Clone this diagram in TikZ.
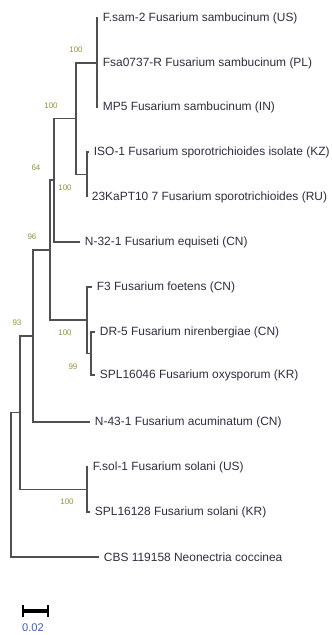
\documentclass[tikz,border=0pt]{standalone}
\usepackage{fontspec}
\setmainfont{Liberation Sans}
\usetikzlibrary{positioning}

\definecolor{treeGray}{RGB}{80,80,80}
\definecolor{leafInk}{RGB}{45,45,65}
\definecolor{bootOlive}{RGB}{150,145,60}
\definecolor{scaleBlue}{RGB}{60,90,200}

\tikzset{
  branch/.style={draw=treeGray, line width=0.9pt},
  leaf/.style={anchor=west, inner xsep=4pt, inner ysep=1pt, text=leafInk,
    font=\fontsize{10.2}{12}\selectfont},
  boot/.style={inner sep=0pt, text=bootOlive, font=\fontsize{6.8}{8}\selectfont}
}

\begin{document}
\begin{tikzpicture}[x=0.03cm, y=-0.03cm]

\useasboundingbox (0,0) rectangle (331,635);

% Define coordinates (inner nodes of the tree)
\coordinate (nSam) at (97,63);
\coordinate (nSpo) at (87,174.5);
\coordinate (nSamSpo) at (76,118.75);
\coordinate (nEqu) at (54,180);
\coordinate (nOxy) at (91,353.5);
\coordinate (nFoe) at (87,320);
\coordinate (nMid) at (50,250);
\coordinate (nAcu) at (33,336);
\coordinate (nSol) at (87,489.5);
\coordinate (nIn) at (20,412.75);
\coordinate (root) at (11,485);

% Leaves
\node[leaf] (sam2) at (98,18) {F.sam-2 Fusarium sambucinum (US)};
\node[leaf] (fsa) at (98,63) {Fsa0737-R Fusarium sambucinum (PL)};
\node[leaf] (mp5) at (98,107) {MP5 Fusarium sambucinum (IN)};
\node[leaf] (iso) at (89,152) {ISO-1 Fusarium sporotrichioides isolate (KZ)};
\node[leaf] (kapt) at (87,197) {23KaPT10 7 Fusarium sporotrichioides (RU)};
\node[leaf] (n32) at (80,242) {N-32-1 Fusarium equiseti (CN)};
\node[leaf] (f3) at (92,287) {F3 Fusarium foetens (CN)};
\node[leaf] (dr5) at (95,332) {DR-5 Fusarium nirenbergiae (CN)};
\node[leaf] (spl046) at (95,375) {SPL16046 Fusarium oxysporum (KR)};
\node[leaf] (n43) at (90,422) {N-43-1 Fusarium acuminatum (CN)};
\node[leaf] (fsol) at (88,467) {F.sol-1 Fusarium solani (US)};
\node[leaf] (spl128) at (90,512) {SPL16128 Fusarium solani (KR)};
\node[leaf] (cbs) at (99,557) {CBS 119158 Neonectria coccinea};

% Sambucinum clade
\draw[branch] (nSam) |- (sam2.west);
\draw[branch] (nSam) |- (fsa.west);
\draw[branch] (nSam) |- (mp5.west);

% Sporotrichioides clade
\draw[branch] (nSpo) |- (iso.west);
\draw[branch] (nSpo) |- (kapt.west);

\draw[branch] (nSamSpo) |- (nSam);
\draw[branch] (nSamSpo) |- (nSpo);

\draw[branch] (nEqu) |- (nSamSpo);
\draw[branch] (nEqu) |- (n32.west);

% Oxysporum / foetens
\draw[branch] (nOxy) |- (dr5.west);
\draw[branch] (nOxy) |- (spl046.west);
\draw[branch] (nFoe) |- (f3.west);
\draw[branch] (nFoe) |- (nOxy);

\draw[branch] (nMid) |- (nEqu);
\draw[branch] (nMid) |- (nFoe);

\draw[branch] (nAcu) |- (nMid);
\draw[branch] (nAcu) |- (n43.west);

% Solani clade
\draw[branch] (nSol) |- (fsol.west);
\draw[branch] (nSol) |- (spl128.west);

\draw[branch] (nIn) |- (nAcu);
\draw[branch] (nIn) |- (nSol);

% Outgroup
\draw[branch] (root) |- (nIn);
\draw[branch] (root) |- (cbs.west);

% Bootstrap values
\node[boot] (bSam) at (76,50) {100};
\node[boot] (bSamSpo) at (51,106) {100};
\node[boot] (bEqu) at (36,168) {64};
\node[boot] (bSpo) at (65,188) {100};
\node[boot] (bMid) at (32,237) {96};
\node[boot] (bAcu) at (17,323) {93};
\node[boot] (bFoe) at (65,333) {100};
\node[boot] (bOxy) at (73,367) {99};
\node[boot] (bSol) at (67,502) {100};

% Scale bar
\coordinate (sbL) at (23,611);
\coordinate (sbR) at (48,611);
\draw[line width=3.2pt] (sbL) -- (sbR);
\draw[line width=2.4pt] (sbL) ++(0,-6) -- ++(0,12);
\draw[line width=2.4pt] (sbR) ++(0,-6) -- ++(0,12);
\node[anchor=north, inner sep=0pt, text=scaleBlue, font=\fontsize{9.5}{11}\selectfont]
  (scaleText) at (33,623) {0.02};

\end{tikzpicture}
\end{document}
